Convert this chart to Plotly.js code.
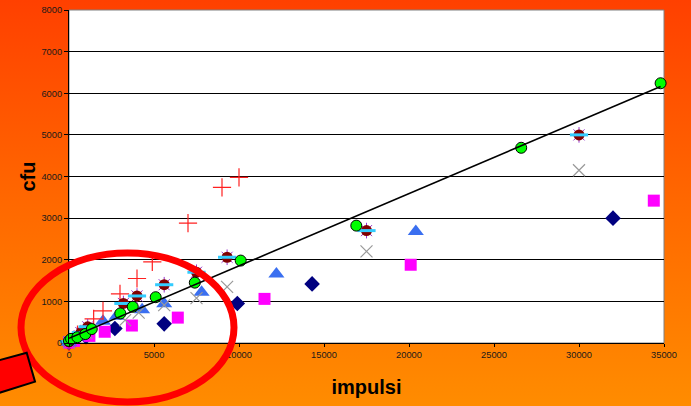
<!DOCTYPE html>
<html>
<head>
<meta charset="utf-8">
<script src="https://cdn.plot.ly/plotly-3.0.1.min.js"></script>
<style>
  html, body { margin: 0; padding: 0; }
  body { width: 691px; height: 406px; background: linear-gradient(to bottom, #ff4000 0%, #ff6800 50%, #ff8c00 100%); overflow: hidden; }
  #grafico { width: 691px; height: 406px; }
</style>
</head>
<body>
<div id="grafico"></div>
<script>
// serie 1: rombi blu scuro
const xRombi = [0, 300, 1000, 2700, 5600, 9900, 14300, 32000];
const yRombi = [10, 60, 150, 350, 460, 950, 1420, 3000];

// serie 2: quadrati magenta
const xQuadrati = [0, 300, 1200, 2100, 3700, 6400, 11500, 20100, 34400];
const yQuadrati = [10, 50, 170, 270, 420, 610, 1060, 1880, 3420];

// serie 3: triangoli azzurri
const xTriangoli = [0, 500, 1000, 2000, 2800, 4300, 5600, 7800, 12200, 20400];
const yTriangoli = [20, 150, 300, 520, 640, 800, 940, 1220, 1660, 2680];

// serie 4: croci grigie
const xCroci = [0, 1000, 3300, 4100, 5600, 7500, 9300, 17500, 30000];
const yCroci = [20, 250, 550, 730, 910, 1080, 1350, 2200, 4150];

// serie 5: piu rossi
const xPiu = [0, 500, 1450, 2000, 3000, 4000, 4900, 7000, 9000, 10000];
const yPiu = [20, 200, 580, 770, 1180, 1550, 1950, 2880, 3740, 3980];

// serie 6-8: cerchi rossi scuri (stella + cerchio + trattino sovrapposti)
const xCerchi = [0, 300, 700, 1100, 3200, 4000, 5600, 7500, 9300, 17500, 30000];
const yCerchi = [30, 120, 250, 390, 950, 1130, 1400, 1700, 2060, 2700, 5000];

// serie 9: cerchi verdi con linea di tendenza
const xVerdi = [0, 120, 490, 960, 1340, 3020, 3750, 5100, 7400, 10100, 16900, 26600, 34800];
const yVerdi = [50, 100, 140, 215, 335, 710, 870, 1100, 1450, 1980, 2820, 4690, 6240];

// regressione lineare sui punti verdi
function tendenzaLineare(xs, ys) {
    const n = xs.length;
    let sx = 0, sy = 0, sxx = 0, sxy = 0;
    for (let i = 0; i < n; i++) {
        sx += xs[i]; sy += ys[i];
        sxx += xs[i] * xs[i]; sxy += xs[i] * ys[i];
    }
    const m = (n * sxy - sx * sy) / (n * sxx - sx * sx);
    const q = (sy - m * sx) / n;
    const xmin = Math.min(...xs), xmax = Math.max(...xs);
    return { x: [xmin, xmax], y: [m * xmin + q, m * xmax + q] };
}
const retta = tendenzaLineare(xVerdi, yVerdi);

const base = { type: 'scatter', mode: 'markers', cliponaxis: false, hoverinfo: 'skip' };

const tracce = [
    { ...base, x: xRombi, y: yRombi, marker: { symbol: 'diamond', size: 12, color: '#000080' } },
    { ...base, x: xQuadrati, y: yQuadrati, marker: { symbol: 'square', size: 12, color: '#ff00ff' } },
    { ...base, x: xTriangoli, y: yTriangoli, marker: { symbol: 'triangle-up', size: 14, color: '#3a6ff0' } },
    { ...base, x: xCroci, y: yCroci, marker: { symbol: 'x-thin-open', size: 12, color: '#999999', line: { color: '#999999', width: 1.2 } } },
    { ...base, x: xPiu, y: yPiu, marker: { symbol: 'cross-thin-open', size: 13, color: '#ff2020', line: { color: '#ff2020', width: 1.2 } } },
    { ...base, x: xCerchi, y: yCerchi, marker: { symbol: 'asterisk-open', size: 13, color: '#9933cc', line: { color: '#9933cc', width: 1 } } },
    { ...base, x: xCerchi, y: yCerchi, marker: { symbol: 'circle', size: 11, color: '#800000' } },
    { ...base, x: xCerchi, y: yCerchi, marker: { symbol: 'line-ew-open', size: 13, color: '#33ccff', line: { color: '#33ccff', width: 3 } } },
    { ...base, x: xVerdi, y: yVerdi, marker: { symbol: 'circle', size: 11, color: '#00ff00', line: { color: '#000000', width: 1 } } },
    { type: 'scatter', mode: 'lines', x: retta.x, y: retta.y, hoverinfo: 'skip', line: { color: '#000000', width: 1.6 } }
];

const fontTick = { family: 'Liberation Sans, Arial, sans-serif', size: 9.3, color: '#1a1a1a' };
const fontTitolo = { family: 'Liberation Sans, Arial, sans-serif', size: 20, color: '#000000', weight: 'bold' };

const layout = {
    width: 691, height: 406,
    margin: { l: 69, r: 27, t: 10, b: 63 },
    paper_bgcolor: 'rgba(0,0,0,0)',
    plot_bgcolor: '#ffffff',
    showlegend: false,
    xaxis: {
        range: [0, 35000], dtick: 5000, tickformat: 'd',
        showgrid: false, zeroline: false,
        showline: true, linecolor: '#000000', linewidth: 1,
        ticks: 'outside', ticklen: 3, tickcolor: '#000000',
        tickfont: fontTick,
        title: { text: 'impulsi', font: fontTitolo, standoff: 20 }
    },
    yaxis: {
        range: [0, 8000], dtick: 1000, tickformat: 'd',
        showgrid: true, gridcolor: '#000000', gridwidth: 1, zeroline: false,
        showline: true, linecolor: '#000000', linewidth: 1,
        ticks: 'outside', ticklen: 4, tickcolor: '#000000',
        tickfont: fontTick,
        title: { text: 'cfu', font: fontTitolo, standoff: 0 }
    },
    shapes: [
        { type: 'rect', xref: 'paper', yref: 'paper', x0: 0, x1: 1, y0: 0, y1: 1,
          line: { color: '#808080', width: 1 }, layer: 'below' },
        { type: 'circle', xref: 'paper', yref: 'paper',
          x0: -0.0807, x1: 0.2773, y0: -0.1772, y1: 0.2703,
          line: { color: '#ff0000', width: 7 }, layer: 'above' },
        { type: 'path', xref: 'paper', yref: 'paper',
          path: 'M -0.1496,-0.0676 L -0.0711,-0.0291 L -0.0571,-0.1162 L -0.1496,-0.1679 Z',
          fillcolor: '#ff0000', line: { color: '#000000', width: 2 }, layer: 'above' }
    ]
};

Plotly.newPlot('grafico', tracce, layout, { displayModeBar: false, staticPlot: true });
</script>
</body>
</html>
